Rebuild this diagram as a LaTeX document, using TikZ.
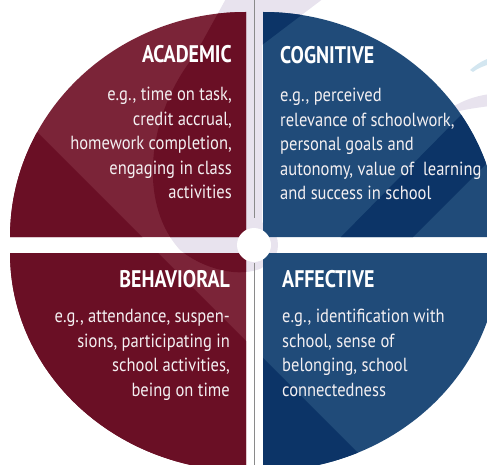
\documentclass[tikz,border=0pt]{standalone}
\usepackage{fontspec}
\setmainfont{PT Sans}[FakeStretch=0.87]
\newfontfamily\headfont{PT Sans}[FakeStretch=0.83]
\definecolor{redL}{HTML}{7B2438}
\definecolor{redD}{HTML}{6A0F25}
\definecolor{bluL}{HTML}{204B79}
\definecolor{bluD}{HTML}{0C3467}
\definecolor{lav}{HTML}{E8E3EE}
\definecolor{ltblue}{HTML}{D3E6F0}
\definecolor{txt}{HTML}{F4F0F2}
\definecolor{sep}{HTML}{8A8A8A}
\def\TLpath{(246,237) -- (10,237) arc[start angle=180,end angle=270,x radius=236,y radius=225] -- cycle}
\def\TRpath{(263,237) -- (263,12) arc[start angle=270,end angle=360,x radius=236,y radius=225] -- cycle}
\def\BLpath{(246,253) -- (10,253) arc[start angle=180,end angle=90,x radius=236,y radius=218] -- cycle}
\def\BRpath{(263,253) -- (499,253) arc[start angle=0,end angle=90,x radius=236,y radius=218] -- cycle}
\def\Spath{(228,-5) -- (328,-5) -- (262,45) -- (262,268) .. controls (240,278) and (205,270) .. (180,250) .. controls (135,200) and (150,110) .. (195,55) -- cycle}
\def\Dpath{(-10,85) -- (-10,480) -- (385,480) -- cycle}
\def\Bpath{(535,40) -- (338,240) -- (410,240) -- (550,100) -- cycle}
\tikzset{
  headtxt/.style={text=white,inner sep=0pt,font=\headfont\bfseries\fontsize{24}{27}\selectfont},
  bodytxt/.style={text=txt,inner sep=0pt,font=\fontsize{19}{24.5}\selectfont},
  seprule/.style={draw=sep,line width=1pt}
}
\begin{document}
\begin{tikzpicture}[x=1pt,y=-1pt]
\useasboundingbox (0,0) rectangle (487,465);
\clip (0,0) rectangle (487,465);
% background watermark
\fill[lav] \Spath;
\fill[lav] (254,245) circle[radius=24];
\fill[lav] (445,112) .. controls (460,101) and (475,96) .. (490,94) -- (490,106) .. controls (475,108) and (460,110) .. (449,114) -- cycle;
\fill[ltblue] (470,70) .. controls (478,63) and (484,60) .. (490,58) -- (490,64) .. controls (484,66) and (478,68) .. (473,72) -- cycle;
% separator
\coordinate (t0) at (254,0);
\coordinate (t1) at (254,218);
\coordinate (b0) at (254,263);
\coordinate (b1) at (254,465);
\draw[seprule] (t0) -- (t1);
\draw[seprule] (b0) -- (b1);
% quadrants
\fill[redL] \TLpath;
\fill[bluL] \TRpath;
\fill[redL] \BLpath;
\fill[bluL] \BRpath;
\begin{scope}
\clip \TLpath;
\fill[redD] \Dpath;
\fill[redD] \Spath;
\end{scope}
\begin{scope}
\clip \BLpath;
\fill[redD] \Dpath;
\fill[redD] \Spath;
\end{scope}
\begin{scope}
\clip \TRpath;
\fill[bluD] \Spath;
\fill[bluD] \Bpath;
\end{scope}
\begin{scope}
\clip \BRpath;
\fill[bluD] \Dpath;
\end{scope}
\fill[white] (254,245) circle[radius=17];
% texts
\node[headtxt,anchor=base east] (h1) at (232,63) {ACADEMIC};
\node[bodytxt,anchor=north east,align=right] (t1b) at (232,87) {e.g., time on task,\\credit accrual,\\homework completion,\\engaging in class\\activities};
\node[headtxt,anchor=base west] (h2) at (280,64) {COGNITIVE};
\node[bodytxt,anchor=north west,align=left] (t2b) at (280,88) {e.g., perceived\\relevance of schoolwork,\\personal goals and\\autonomy, value of \ learning\\and success in school};
\node[headtxt,anchor=base east] (h3) at (230,287) {BEHAVIORAL};
\node[bodytxt,anchor=north east,align=right] (t3b) at (230,309) {e.g., attendance, suspen-\\sions, participating in\\school activities,\\being on time};
\node[headtxt,anchor=base west] (h4) at (282,287) {AFFECTIVE};
\node[bodytxt,anchor=north west,align=left] (t4b) at (282,309) {e.g., identification with\\school, sense of\\belonging, school\\connectedness};
\end{tikzpicture}
\end{document}
